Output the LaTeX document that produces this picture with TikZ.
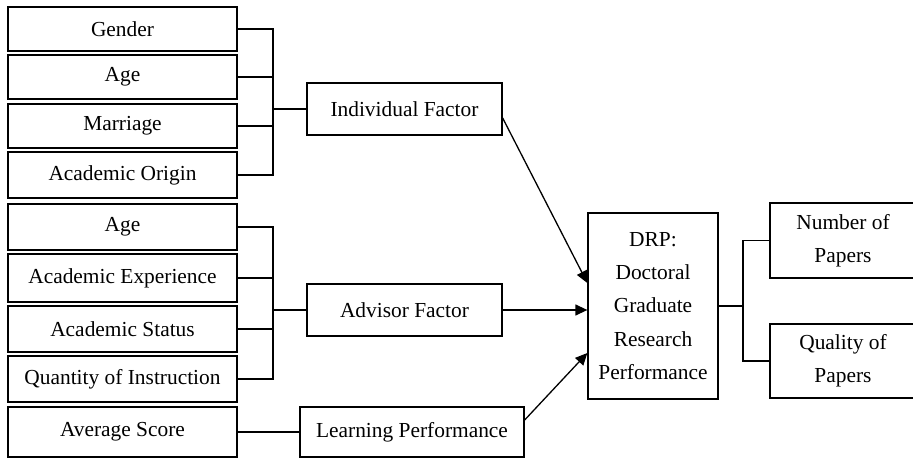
\documentclass[tikz,border=0pt]{standalone}
\usepackage{fontspec}
\setmainfont{Liberation Serif}
\usetikzlibrary{arrows.meta,calc}
\begin{document}
\begin{tikzpicture}[x=0.5pt,y=-0.5pt,
  box/.style={draw,line width=0.65pt,inner sep=0pt,align=center,
    font=\fontsize{10.7}{16.7}\selectfont},
  lbox/.style={box,minimum width=114.5pt},
  conn/.style={line width=0.65pt},
  arr/.style={line width=0.65pt,-{Triangle[length=6pt,width=5.5pt]}}]
\useasboundingbox (0,0) rectangle (913,458);
% left column
\node[lbox,minimum height=22pt] (gen) at (122.5,29) {Gender};
\node[lbox,minimum height=22pt] (age1) at (122.5,77) {Age};
\node[lbox,minimum height=22pt] (mar) at (122.5,126) {Marriage};
\node[lbox,minimum height=23pt] (ori) at (122.5,175) {Academic Origin};
\node[lbox,minimum height=23pt] (age2) at (122.5,227) {Age};
\node[lbox,minimum height=24pt] (exp) at (122.5,278) {Academic Experience};
\node[lbox,minimum height=23pt] (sta) at (122.5,329) {Academic Status};
\node[lbox,minimum height=23pt] (qua) at (122.5,379) {Quantity of Instruction};
\node[lbox,minimum height=25pt] (avg) at (122.5,432) {Average Score};
% middle column
\node[box,minimum width=97.5pt,minimum height=26pt] (ind) at (404.5,109) {Individual Factor};
\node[box,minimum width=97.5pt,minimum height=26pt] (adv) at (404.5,310) {Advisor Factor};
\node[box,minimum width=112pt,minimum height=25pt] (lp) at (412,432) {Learning Performance};
% DRP
\node[box,minimum width=65pt,minimum height=93pt] (drp) at (653,306) {DRP:\\Doctoral\\Graduate\\Research\\Performance};
% right column
\node[box,minimum width=80pt,minimum height=37.5pt] (num) at (850,240.5) {\hspace*{-7pt}Number of\\\hspace*{-7pt}Papers};
\node[box,minimum width=80pt,minimum height=37pt] (qual) at (850,361) {\hspace*{-7pt}Quality of\\\hspace*{-7pt}Papers};
% junctions
\coordinate (j1) at (273,109);
\coordinate (j2) at (273,310);
\coordinate (j3) at (743,306);
\foreach \n in {gen,age1,mar,ori} \draw[conn] (\n.east) -| (j1);
\draw[conn] (j1) -- (ind.west);
\foreach \n in {age2,exp,sta,qua} \draw[conn] (\n.east) -| (j2);
\draw[conn] (j2) -- (adv.west);
\draw[conn] (avg) -- (lp);
% arrows to DRP
\draw[arr] ([yshift=-4.5pt]ind.east) -- ([yshift=11.5pt]drp.west);
\draw[arr] (adv.east) -- (adv.east -| drp.west);
\draw[arr] ([yshift=6pt]lp.east) -- ([yshift=-23.5pt]drp.west);
% outcomes
\draw[conn] (drp.east) -- (j3);
\draw[conn] (j3) |- (num.west);
\draw[conn] (j3) |- (qual.west);
\end{tikzpicture}
\end{document}
